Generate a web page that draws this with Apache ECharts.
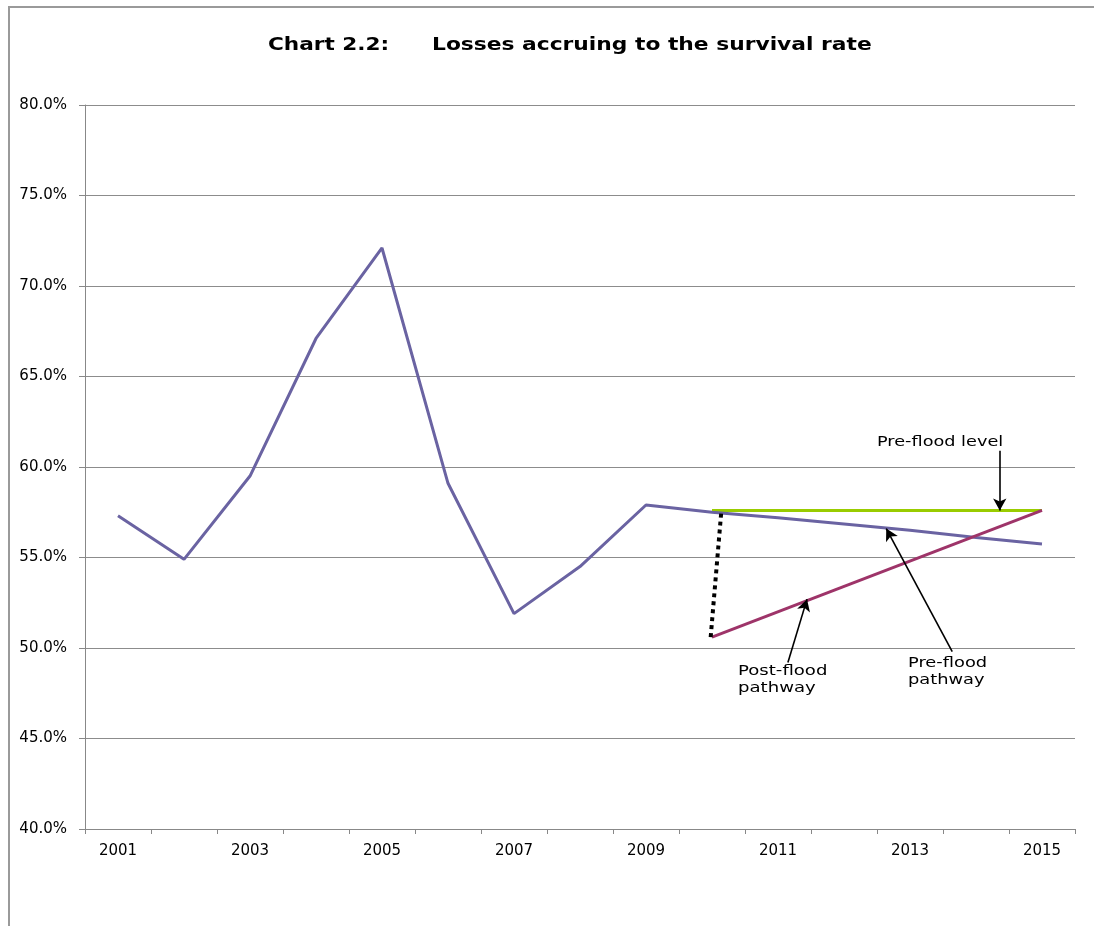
<!DOCTYPE html>
<html>
<head>
<meta charset="utf-8">
<script src="https://cdn.jsdelivr.net/npm/echarts@6/dist/echarts.min.js"></script>
<style>
  html, body { margin: 0; padding: 0; background: #ffffff; }
  #chart { width: 1094px; height: 926px; }
</style>
</head>
<body>
<div id="chart"></div>
<script>
// Survival rate by year (%)
const years = ['2001','2002','2003','2004','2005','2006','2007','2008','2009','2010','2011','2012','2013','2014','2015'];
const survivalRate = [57.3, 54.9, 59.5, 67.1, 72.1, 59.1, 51.9, 54.5, 57.9, 57.5, 57.2, 56.85, 56.5, 56.1, 55.75];
// Pre-flood level held flat from 2010 to 2015
const preFloodLevel = [null, null, null, null, null, null, null, null, null, 57.6, null, null, null, null, 57.6];
// Post-flood recovery pathway from 2010 to 2015
const postFloodPathway = [null, null, null, null, null, null, null, null, null, 50.6, null, null, null, null, 57.6];
// Drop at the flood (x as category position, y in %)
const floodDrop = [[8.98, 50.6], [9.14, 57.5]];

// Callouts: label text, arrow tail and arrow tip in (category position, %)
const callouts = [
  { text: 'Pre-flood level', tail: [13.36, 60.9], tip: [13.36, 57.6] },
  { text: 'Post-flood\npathway', tail: [10.15, 49.2], tip: [10.44, 52.7] },
  { text: 'Pre-flood\npathway', tail: [12.64, 49.8], tip: [11.64, 56.6] }
];

const FONT = 'DejaVu Sans';
const chart = echarts.init(document.getElementById('chart'));

const noteStyle = { font: '13.5px "DejaVu Sans"', fill: '#000', lineHeight: 17 };
// wide lettering for the heading and the callouts
function wideText(x, y, text, style, sx) {
  return { type: 'text', x: x, y: y, scaleX: sx, originX: 0,
    style: Object.assign({ text: text }, style) };
}

const option = {
  backgroundColor: '#ffffff',
  animation: false,
  graphic: [
    { type: 'rect', shape: { x: 9, y: 7, width: 1200, height: 1000 },
      style: { fill: 'none', stroke: '#9a9a9a', lineWidth: 2 }, silent: true, z: -1 },
    wideText(268, 36, 'Chart 2.2:', { font: 'bold 18px "DejaVu Sans"', fill: '#000' }, 1.2),
    wideText(432, 36, 'Losses accruing to the survival rate', { font: 'bold 18px "DejaVu Sans"', fill: '#000' }, 1.21),
    wideText(877, 434, callouts[0].text, noteStyle, 1.31),
    wideText(738, 663, callouts[1].text, noteStyle, 1.34),
    wideText(908, 655, callouts[2].text, noteStyle, 1.32)
  ],
  grid: { left: 85, right: 19, top: 105, bottom: 97, containLabel: false },
  xAxis: [
    {
      type: 'category', data: years, boundaryGap: true,
      axisLine: { lineStyle: { color: '#888', width: 1 } },
      axisTick: { show: true, interval: 0, length: 5, lineStyle: { color: '#888' } },
      axisLabel: { interval: 1, margin: 15, fontFamily: FONT, fontSize: 15, color: '#000' },
      splitLine: { show: false }
    },
    { type: 'value', min: -0.5, max: 14.5, show: false, splitLine: { show: false } }
  ],
  yAxis: {
    type: 'value', min: 40, max: 80, interval: 5,
    axisLine: { show: true, onZero: false, lineStyle: { color: '#888', width: 1 } },
    axisTick: { show: true, length: 6, lineStyle: { color: '#888' } },
    axisLabel: { margin: 18, fontFamily: FONT, fontSize: 15, color: '#000',
      formatter: v => v.toFixed(1) + '%' },
    splitLine: { lineStyle: { color: '#8c8c8c', width: 1 } }
  },
  series: [
    {
      name: 'Survival rate', type: 'line', data: survivalRate,
      symbol: 'none', lineStyle: { color: '#6A63A2', width: 3 }, z: 3
    },
    {
      name: 'Pre-flood level', type: 'line', data: preFloodLevel, connectNulls: true,
      symbol: 'none', lineStyle: { color: '#99CC00', width: 3 }, z: 2
    },
    {
      name: 'Post-flood pathway', type: 'line', data: postFloodPathway, connectNulls: true,
      symbol: 'none', lineStyle: { color: '#9E3469', width: 3 }, z: 4
    },
    {
      name: 'Flood drop', type: 'line', xAxisIndex: 1, data: floodDrop,
      symbol: 'none', lineStyle: { color: '#000', width: 4, type: [4, 4], cap: 'butt' }, z: 5,
      markLine: {
        silent: true, symbol: ['none', 'arrow'], symbolSize: [10, 12],
        label: { show: false },
        lineStyle: { color: '#000', width: 1.6, type: 'solid' },
        data: callouts.map(c => [{ coord: c.tail }, { coord: c.tip }])
      }
    }
  ]
};
chart.setOption(option);
</script>
</body>
</html>
